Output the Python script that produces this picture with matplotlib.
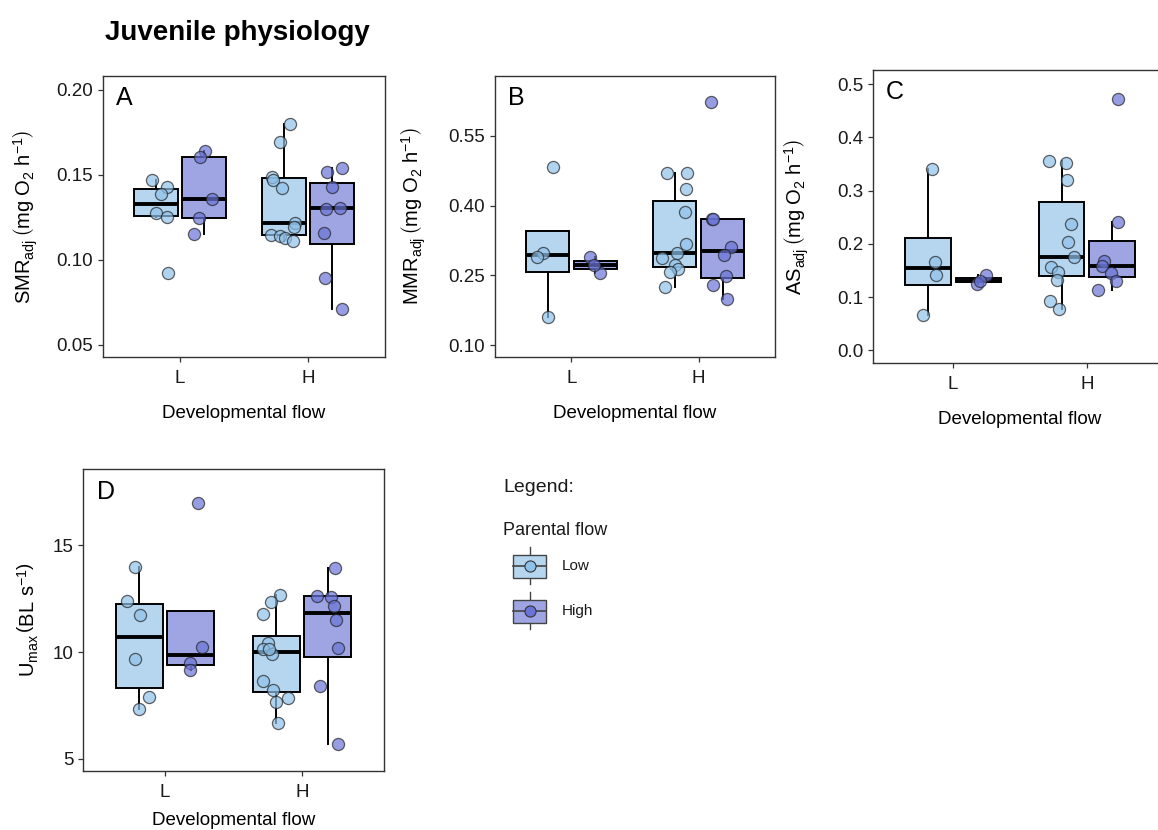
import numpy as np
import matplotlib
matplotlib.use('Agg')
import matplotlib.pyplot as plt
from matplotlib.patches import Rectangle

# --- DATA ---
# each list holds [developmental L, developmental H]; *_jit = horizontal jitter of each point
flows = ['L', 'H']

smr_low = [[0.1471, 0.1431, 0.1386, 0.1275, 0.1251, 0.0922],
           [0.1798, 0.1692, 0.1490, 0.1471, 0.1422, 0.1218, 0.1192, 0.1147, 0.1143, 0.1131, 0.1112]]
smr_low_jit = [[-0.216, -0.104, -0.151, -0.19, -0.099, -0.091],
               [-0.14, -0.22, -0.28, -0.27, -0.20, -0.10, -0.11, -0.29, -0.22, -0.18, -0.12]]
smr_high = [[0.1641, 0.1604, 0.1361, 0.1245, 0.1153],
            [0.1543, 0.1520, 0.1431, 0.1298, 0.1308, 0.1157, 0.0896, 0.0712]]
smr_high_jit = [[0.198, 0.156, 0.252, 0.151, 0.112],
                [0.263, 0.146, 0.19, 0.14, 0.25, 0.127, 0.133, 0.268]]

mmr_low = [[0.4819, 0.2984, 0.2884, 0.1602],
           [0.469, 0.469, 0.4352, 0.3852, 0.317, 0.2984, 0.2877, 0.2719, 0.2633, 0.2575, 0.2253]]
mmr_low_jit = [[-0.144, -0.223, -0.268, -0.18],
               [-0.249, -0.092, -0.102, -0.11, -0.102, -0.17, -0.285, -0.188, -0.162, -0.228, -0.267]]
mmr_high = [[0.2898, 0.2554, 0.2719],
            [0.6229, 0.3708, 0.3708, 0.3113, 0.2934, 0.2489, 0.2289, 0.2003]]
mmr_high_jit = [[0.149, 0.222, 0.18],
                [0.10, 0.105, 0.11, 0.251, 0.196, 0.217, 0.113, 0.225]]

as_low = [[0.3401, 0.1669, 0.1419, 0.0669],
          [0.3563, 0.3513, 0.320, 0.2376, 0.2044, 0.1751, 0.1563, 0.1463, 0.1326, 0.0919, 0.0776]]
as_low_jit = [[-0.155, -0.137, -0.125, -0.225],
              [-0.283, -0.158, -0.15, -0.118, -0.138, -0.093, -0.268, -0.213, -0.225, -0.275, -0.208]]
as_high = [[0.1407, 0.1245, 0.131],
           [0.472, 0.2419, 0.1682, 0.1594, 0.1451, 0.1307, 0.1138]]
as_high_jit = [[0.243, 0.176, 0.2],
               [0.237, 0.233, 0.132, 0.113, 0.18, 0.218, 0.087]]

umax_low = [[13.98, 12.41, 11.72, 9.65, 7.87, 7.35],
            [12.68, 12.36, 11.77, 10.41, 10.12, 9.89, 8.65, 8.21, 7.82, 7.66, 6.67, 10.15]]
umax_low_jit = [[-0.22, -0.278, -0.181, -0.22, -0.116, -0.188],
                [-0.162, -0.227, -0.287, -0.251, -0.287, -0.216, -0.287, -0.209, -0.101, -0.193, -0.174, -0.24]]
umax_high = [[16.99, 10.22, 9.47, 9.18],
             [13.96, 12.63, 12.60, 12.17, 11.50, 10.20, 8.40, 5.67]]
umax_high_jit = [[0.242, 0.271, 0.181, 0.181],
                 [0.242, 0.109, 0.213, 0.232, 0.249, 0.266, 0.133, 0.261]]

# --- STYLE ---
W, H = 1158, 830
LOW_BOX, HIGH_BOX = '#b6d6f0', '#9ea5e2'
LOW_PT, HIGH_PT = '#8fc1e9', '#6a74d6'
DODGE, BOXW = 0.1875, 0.34

plt.rcParams['font.family'] = ['Liberation Sans', 'DejaVu Sans']
plt.rcParams['mathtext.fontset'] = 'custom'
plt.rcParams['mathtext.rm'] = 'Liberation Sans'
plt.rcParams['mathtext.it'] = 'Liberation Sans:italic'
plt.rcParams['mathtext.bf'] = 'Liberation Sans:bold'


def px_rect(l, t, r, b):
    return [l / W, 1 - b / H, (r - l) / W, (b - t) / H]


def draw_panel(ax, low, low_jit, high, high_jit, ylim, yticks, ytl, ylabel, letter,
               label_x, xpad=13):
    pos = np.arange(1, len(flows) + 1)
    for vals, jit, sign, box_c, pt_c in [(low, low_jit, -1, LOW_BOX, LOW_PT),
                                         (high, high_jit, 1, HIGH_BOX, HIGH_PT)]:
        ax.boxplot(vals, positions=pos + sign * DODGE, widths=BOXW, whis=1.5,
                   showfliers=False, showcaps=False, patch_artist=True,
                   boxprops=dict(facecolor=box_c, edgecolor='black', linewidth=1.4),
                   medianprops=dict(color='black', linewidth=2.8),
                   whiskerprops=dict(color='black', linewidth=1.4), zorder=2)
        for i, (v, j) in enumerate(zip(vals, jit)):
            ax.scatter(np.array(j) + pos[i], v, s=76, color=pt_c, alpha=0.7,
                       edgecolors='#222222', linewidths=0.9, zorder=3)
    ax.set_xlim(0.4, 2.6)
    ax.set_ylim(*ylim)
    ax.set_xticks(pos)
    ax.set_xticklabels(flows)
    ax.set_yticks(yticks)
    ax.set_yticklabels(ytl)
    ax.tick_params(labelsize=13.5, length=3.5, width=0.9, color='#333333',
                   labelcolor='#1a1a1a')
    ax.tick_params(axis='x', pad=6)
    for s in ax.spines.values():
        s.set_color('#333333')
        s.set_linewidth(1.0)
    ax.set_xlabel('Developmental flow', fontsize=13.5, labelpad=xpad)
    ax.set_ylabel(ylabel, fontsize=14.5)
    ax.yaxis.set_label_coords(label_x, 0.5)
    ax.text(0.045, 0.965, letter, transform=ax.transAxes, fontsize=18,
            ha='left', va='top')


fig = plt.figure(figsize=(W / 100, H / 100), dpi=100)

axA = fig.add_axes(px_rect(103, 76, 385, 357))
draw_panel(axA, smr_low, smr_low_jit, smr_high, smr_high_jit, (0.0429, 0.2082),
           [0.05, 0.10, 0.15, 0.20], ['0.05', '0.10', '0.15', '0.20'],
           r'$\mathrm{SMR_{adj}}\,\left(\mathrm{mg\ O_2\ h^{-1}}\right)$', 'A', -0.225)

axB = fig.add_axes(px_rect(495, 76, 775, 357))
draw_panel(axB, mmr_low, mmr_low_jit, mmr_high, mmr_high_jit, (0.0748, 0.678),
           [0.10, 0.25, 0.40, 0.55], ['0.10', '0.25', '0.40', '0.55'],
           r'$\mathrm{MMR_{adj}}\,\left(\mathrm{mg\ O_2\ h^{-1}}\right)$', 'B', -0.24)

axC = fig.add_axes(px_rect(873, 70, 1167, 363))
draw_panel(axC, as_low, as_low_jit, as_high, as_high_jit, (-0.0236, 0.5264),
           [0.0, 0.1, 0.2, 0.3, 0.4, 0.5], ['0.0', '0.1', '0.2', '0.3', '0.4', '0.5'],
           r'$\mathrm{AS_{adj}}\,\left(\mathrm{mg\ O_2\ h^{-1}}\right)$', 'C', -0.21)

axD = fig.add_axes(px_rect(83, 469, 384, 771))
draw_panel(axD, umax_low, umax_low_jit, umax_high, umax_high_jit, (4.417, 18.59),
           [5, 10, 15], ['5', '10', '15'],
           r'$\mathrm{U_{max}}\,\left(\mathrm{BL\ s^{-1}}\right)$', 'D', -0.14, xpad=8)

fig.text(105 / W, 1 - 40 / H, 'Juvenile physiology', fontsize=20, fontweight='bold',
         ha='left', va='baseline')

# legend drawn in pixel space
lg = fig.add_axes([0, 0, 1, 1])
lg.set_xlim(0, W)
lg.set_ylim(H, 0)
lg.axis('off')
lg.text(503, 487, 'Legend:', fontsize=14, va='center', ha='left', color='#1a1a1a')
lg.text(503, 530, 'Parental flow', fontsize=13, va='center', ha='left', color='#1a1a1a')
for cy, lab, box_c, pt_c in [(566, 'Low', LOW_BOX, LOW_PT), (611, 'High', HIGH_BOX, HIGH_PT)]:
    lg.plot([529.5, 529.5], [cy - 19, cy + 18], color='#444444', lw=1.0, zorder=1)
    lg.add_patch(Rectangle((513, cy - 11.5), 33, 23, facecolor=box_c,
                           edgecolor='#444444', lw=1.0, zorder=2))
    lg.plot([513, 546], [cy, cy], color='#444444', lw=1.2, zorder=3)
    lg.scatter([529.5], [cy], s=64, color=pt_c, edgecolors='#333333',
               linewidths=0.8, zorder=4)
    lg.text(562, cy, lab, fontsize=11, va='center', ha='left', color='#1a1a1a')

fig.savefig('out.png', dpi=100)
